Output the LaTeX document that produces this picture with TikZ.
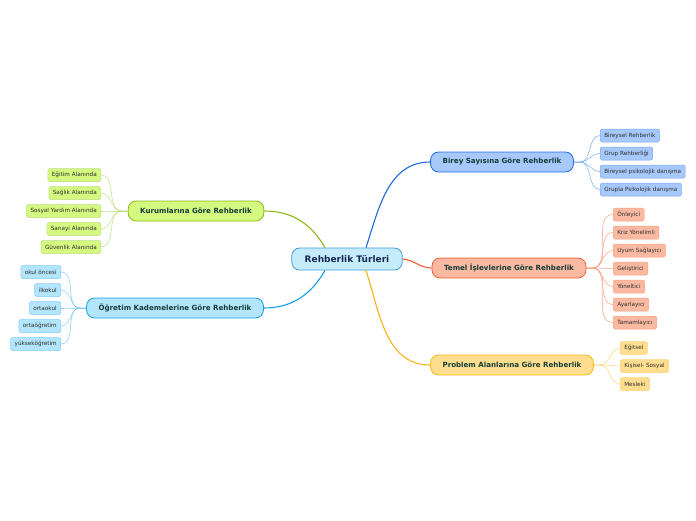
\documentclass[tikz,border=0pt]{standalone}
\usepackage{fontspec}
\setmainfont{DejaVu Sans}
\usetikzlibrary{positioning}
\definecolor{roottext}{RGB}{25, 40, 80}
\definecolor{titletext}{RGB}{20, 60, 55}
\definecolor{subtext}{RGB}{45, 45, 45}
% branch colours: fill, border, edge
\definecolor{rootfill}{RGB}{197, 236, 251}
\definecolor{rootline}{RGB}{70, 155, 215}
\definecolor{bfill}{RGB}{167, 200, 250}
\definecolor{bline}{RGB}{30, 105, 220}
\definecolor{bsoft}{RGB}{120, 170, 240}
\definecolor{tfill}{RGB}{250, 186, 162}
\definecolor{tline}{RGB}{240, 95, 50}
\definecolor{tsoft}{RGB}{248, 160, 128}
\definecolor{pfill}{RGB}{255, 223, 143}
\definecolor{pline}{RGB}{248, 180, 20}
\definecolor{psoft}{RGB}{252, 210, 120}
\definecolor{kfill}{RGB}{213, 249, 128}
\definecolor{kline}{RGB}{138, 185, 20}
\definecolor{ksoft}{RGB}{190, 222, 130}
\definecolor{ofill}{RGB}{179, 229, 252}
\definecolor{oline}{RGB}{20, 160, 230}
\definecolor{osoft}{RGB}{130, 205, 245}
\tikzset{
    rootbox/.style={draw=rootline, fill=rootfill, line width=0.8pt, rounded corners=8pt,
        minimum height=22pt, inner xsep=13pt, text=roottext, font=\fontsize{9}{10}\selectfont\bfseries},
    branchbox/.style={draw=#1line, fill=#1fill, line width=0.8pt, rounded corners=8pt,
        minimum height=20pt, inner xsep=12pt, text=titletext, font=\fontsize{7.1}{8}\selectfont\bfseries},
    leafbox/.style={draw=#1soft, fill=#1fill, line width=0.5pt, rounded corners=1.5pt,
        minimum height=13pt, inner xsep=4pt, inner ysep=1pt, text=subtext, font=\fontsize{5.7}{6.5}\selectfont},
    mainedge/.style={draw=#1line, line width=1.1pt},
    leafedge/.style={draw=#1soft, line width=0.5pt}
}

\begin{document}
\begin{tikzpicture}[x=1pt, y=-1pt]

    \useasboundingbox (0, 0) rectangle (696, 520);

    \node[rootbox] (root) at (347, 259) {Rehberlik Türleri};

    \node[branchbox=b] (birey) at (502, 162) {Birey Sayısına Göre Rehberlik};
    \node[branchbox=t] (temel) at (509, 268) {Temel İşlevlerine Göre Rehberlik};
    \node[branchbox=p] (problem) at (512, 365) {Problem Alanlarına Göre Rehberlik};
    \node[branchbox=k] (kurum) at (196, 211) {Kurumlarına Göre Rehberlik};
    \node[branchbox=o] (ogretim) at (175, 308) {Öğretim Kademelerine Göre Rehberlik};

    % root to branches
    \draw[mainedge=b] ([xshift=19pt]root.north) to[out=72, in=180] (birey.west);
    \draw[mainedge=t] (root.east) to[out=-5, in=180] (temel.west);
    \draw[mainedge=p] ([xshift=19pt]root.south) to[out=-72, in=180] (problem.west);
    \draw[mainedge=k] (kurum.east) to[out=0, in=120] ([xshift=-22pt]root.north);
    \draw[mainedge=o] (ogretim.east) to[out=0, in=-120] ([xshift=-22pt]root.south);

    % leaves on the right
    \foreach \txt [count=\i] in {Bireysel Rehberlik, Grup Rehberliği,
            Bireysel psikolojik danışma, Grupla Psikolojik danışma} {%
        \node[leafbox=b, anchor=west] (b\i) at (600, 117.5+18*\i) {\txt};
        \draw[leafedge=b] (birey.east) -- ++(6, 0) to[out=0, in=180] (b\i.west);
    };

    \foreach \txt [count=\i] in {Önleyici, Kriz Yönelimli, Uyum Sağlayıcı,
            Geliştirici, Yöneltici, Ayarlayıcı, Tamamlayıcı} {%
        \node[leafbox=t, anchor=west] (t\i) at (613, 196.5+18*\i) {\txt};
        \draw[leafedge=t] (temel.east) -- ++(6, 0) to[out=0, in=180] (t\i.west);
    };

    \foreach \txt [count=\i] in {Eğitsel, Kişisel- Sosyal, Mesleki} {%
        \node[leafbox=p, anchor=west] (p\i) at (620, 330+18*\i) {\txt};
        \draw[leafedge=p] (problem.east) -- ++(6, 0) to[out=0, in=180] (p\i.west);
    };

    % leaves on the left
    \foreach \txt [count=\i] in {Eğitim Alanında, Sağlık Alanında, Sosyal Yardım Alanında,
            Sanayi Alanında, Güvenlik Alanında} {%
        \node[leafbox=k, anchor=east] (k\i) at (101, 157+18*\i) {\txt};
        \draw[leafedge=k] (kurum.west) -- ++(-6, 0) to[out=180, in=0] (k\i.east);
    };

    \foreach \txt [count=\i] in {okul öncesi, ilkokul, ortaokul,
            ortaöğretim, yükseköğretim} {%
        \node[leafbox=o, anchor=east] (o\i) at (61, 254+18*\i) {\txt};
        \draw[leafedge=o] (ogretim.west) -- ++(-6, 0) to[out=180, in=0] (o\i.east);
    };

\end{tikzpicture}
\end{document}
